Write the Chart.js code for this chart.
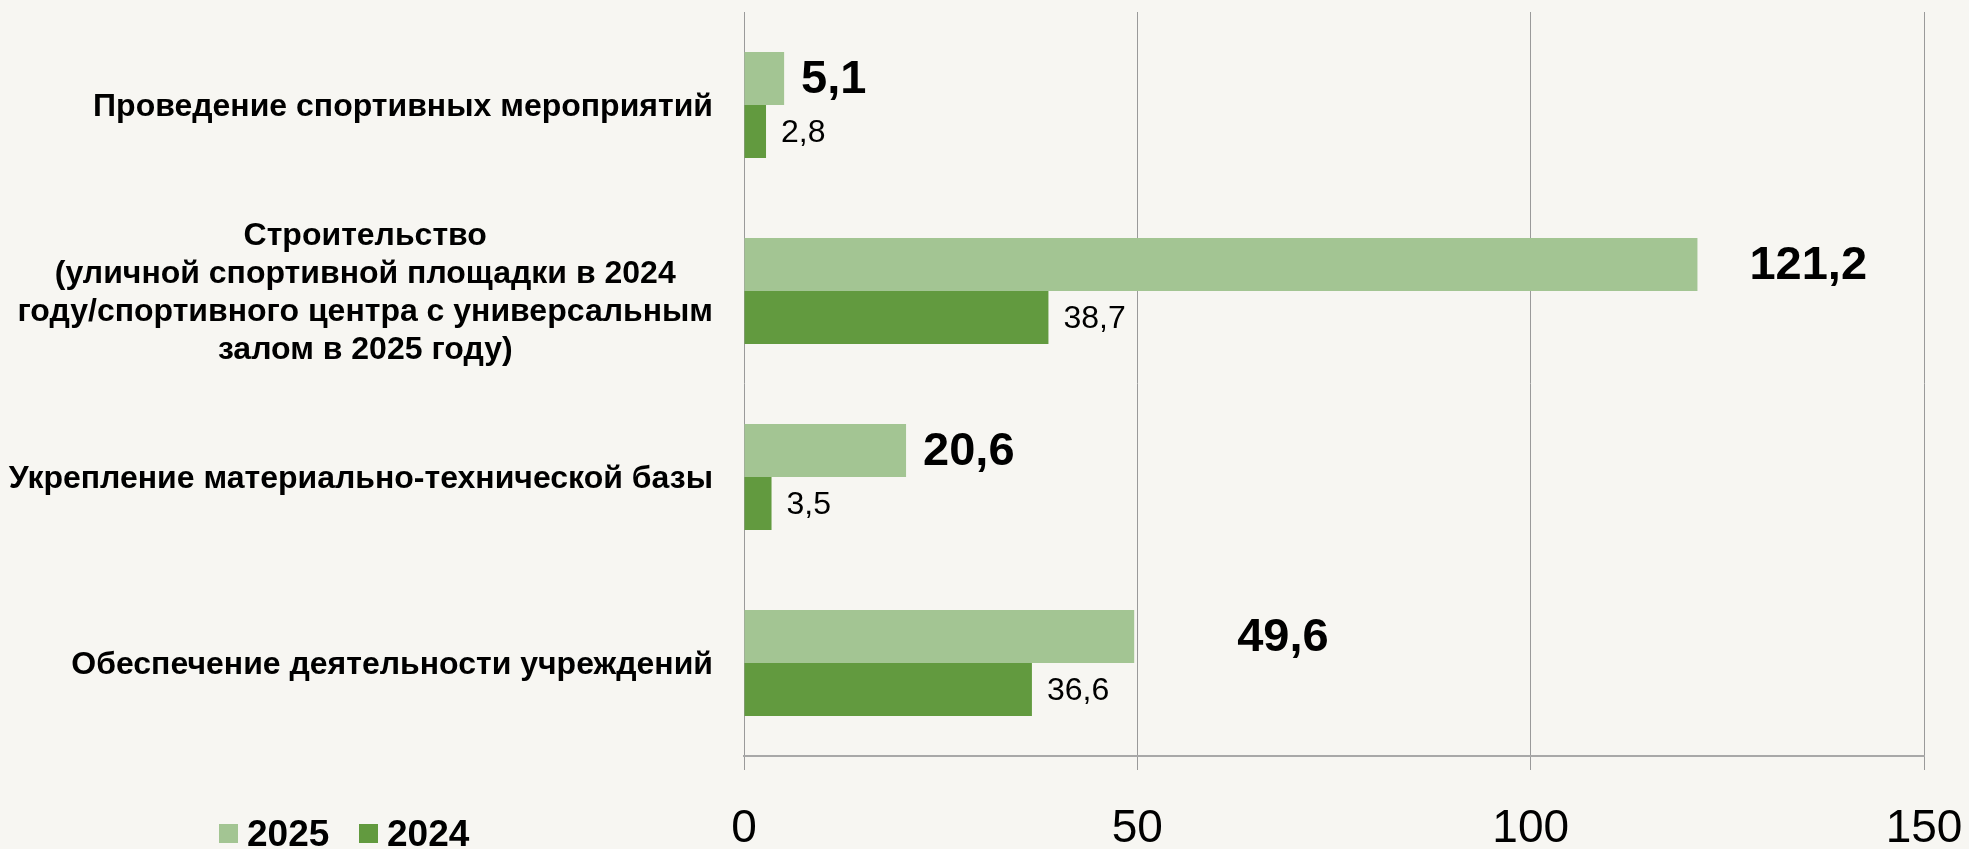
<!DOCTYPE html>
<html>

<head>
    <title>Финансирование</title>
    <script src="https://cdn.jsdelivr.net/npm/chart.js"></script>
    <style>
        body {
            margin: 0;
            background: #f7f6f2;
        }

        .chart-container {
            width: 1969px;
            height: 849px;
        }
    </style>
</head>

<body>
    <div class="chart-container">
        <canvas id="sportChart" width="1969" height="849"></canvas>
    </div>

    <script>
        // Data
        var categories = [
            ['Проведение спортивных мероприятий'],
            ['Строительство', '(уличной спортивной площадки в 2024', 'году/спортивного центра с универсальным', 'залом в 2025 году)'],
            ['Укрепление материально-технической базы'],
            ['Обеспечение деятельности учреждений']
        ];
        var seriesNames = ['2025', '2024'];
        var values2025 = [5.1, 121.2, 20.6, 49.6];
        var values2024 = [2.8, 38.7, 3.5, 36.6];
        var xTicks = [0, 50, 100, 150];

        // gap between bar end and its value label (px)
        var labelGap2025 = [17, 52, 17, 103];
        var labelGap2024 = [15, 15, 15, 15];

        var FONT = '"Liberation Sans", Arial, sans-serif';
        var colors = ['#a3c593', '#629a3f'];

        function fmt(v) {
            return v.toFixed(1).replace('.', ',');
        }

        // value labels next to each bar
        var valueLabels = {
            id: 'valueLabels',
            afterDatasetsDraw: function (chart) {
                var ctx = chart.ctx;
                var gaps = [labelGap2025, labelGap2024];
                chart.data.datasets.forEach(function (ds, di) {
                    var meta = chart.getDatasetMeta(di);
                    meta.data.forEach(function (bar, i) {
                        ctx.save();
                        ctx.font = di === 0 ? 'bold 47px ' + FONT : '32px ' + FONT;
                        ctx.fillStyle = '#000';
                        ctx.textAlign = 'left';
                        ctx.textBaseline = 'middle';
                        ctx.fillText(fmt(ds.data[i]), bar.x + gaps[di][i], bar.y + 2);
                        ctx.restore();
                    });
                });
            }
        };

        // category labels: each block centred, blocks right-aligned to the axis
        var categoryLabels = {
            id: 'categoryLabels',
            afterDraw: function (chart) {
                var ctx = chart.ctx;
                var yScale = chart.scales.y;
                var right = chart.chartArea.left - 31;
                var lh = 38;
                ctx.save();
                ctx.font = 'bold 32px ' + FONT;
                ctx.fillStyle = '#000';
                ctx.textAlign = 'center';
                ctx.textBaseline = 'middle';
                categories.forEach(function (lines, i) {
                    var y = yScale.getPixelForValue(i);
                    var w = 0;
                    lines.forEach(function (l) { w = Math.max(w, ctx.measureText(l).width); });
                    var cx = right - w / 2;
                    var y0 = y - (lines.length - 1) * lh / 2;
                    lines.forEach(function (l, k) {
                        ctx.fillText(l, cx, y0 + k * lh + 2);
                    });
                });
                ctx.restore();
            }
        };

        // legend at bottom left
        var bottomLegend = {
            id: 'bottomLegend',
            afterDraw: function (chart) {
                var ctx = chart.ctx;
                var x = 219;
                var y = 834;
                ctx.save();
                ctx.font = 'bold 37px ' + FONT;
                ctx.textBaseline = 'middle';
                ctx.textAlign = 'left';
                chart.data.datasets.forEach(function (ds) {
                    ctx.fillStyle = ds.backgroundColor;
                    ctx.fillRect(x, y - 10, 19, 19);
                    ctx.fillStyle = '#000';
                    ctx.fillText(ds.label, x + 28, y + 2);
                    x += 140;
                });
                ctx.restore();
            }
        };

        var ctx = document.getElementById('sportChart').getContext('2d');
        var sportChart = new Chart(ctx, {
            type: 'bar',
            data: {
                labels: categories,
                datasets: [{
                    label: seriesNames[0],
                    data: values2025,
                    backgroundColor: colors[0],
                    categoryPercentage: 0.57,
                    barPercentage: 1
                }, {
                    label: seriesNames[1],
                    data: values2024,
                    backgroundColor: colors[1],
                    categoryPercentage: 0.57,
                    barPercentage: 1
                }]
            },
            options: {
                indexAxis: 'y',
                responsive: false,
                animation: false,
                layout: {
                    padding: { left: 744, right: 45, top: 12, bottom: 0 }
                },
                plugins: {
                    legend: { display: false },
                    tooltip: { enabled: false }
                },
                scales: {
                    x: {
                        min: xTicks[0],
                        max: xTicks[xTicks.length - 1],
                        afterBuildTicks: function (scale) {
                            scale.ticks = xTicks.map(function (v) { return { value: v }; });
                        },
                        afterFit: function (scale) {
                            scale.height = 93;
                            scale.paddingLeft = 0;
                            scale.paddingRight = 0;
                        },
                        ticks: {
                            color: '#000',
                            padding: 32,
                            maxRotation: 0,
                            font: { family: FONT, size: 46 }
                        },
                        grid: {
                            color: '#9a9a9a',
                            lineWidth: 1,
                            tickLength: 14
                        },
                        border: {
                            color: '#a8a8a8',
                            width: 2
                        }
                    },
                    y: {
                        display: false
                    }
                }
            },
            plugins: [valueLabels, categoryLabels, bottomLegend]
        });
    </script>
</body>

</html>
